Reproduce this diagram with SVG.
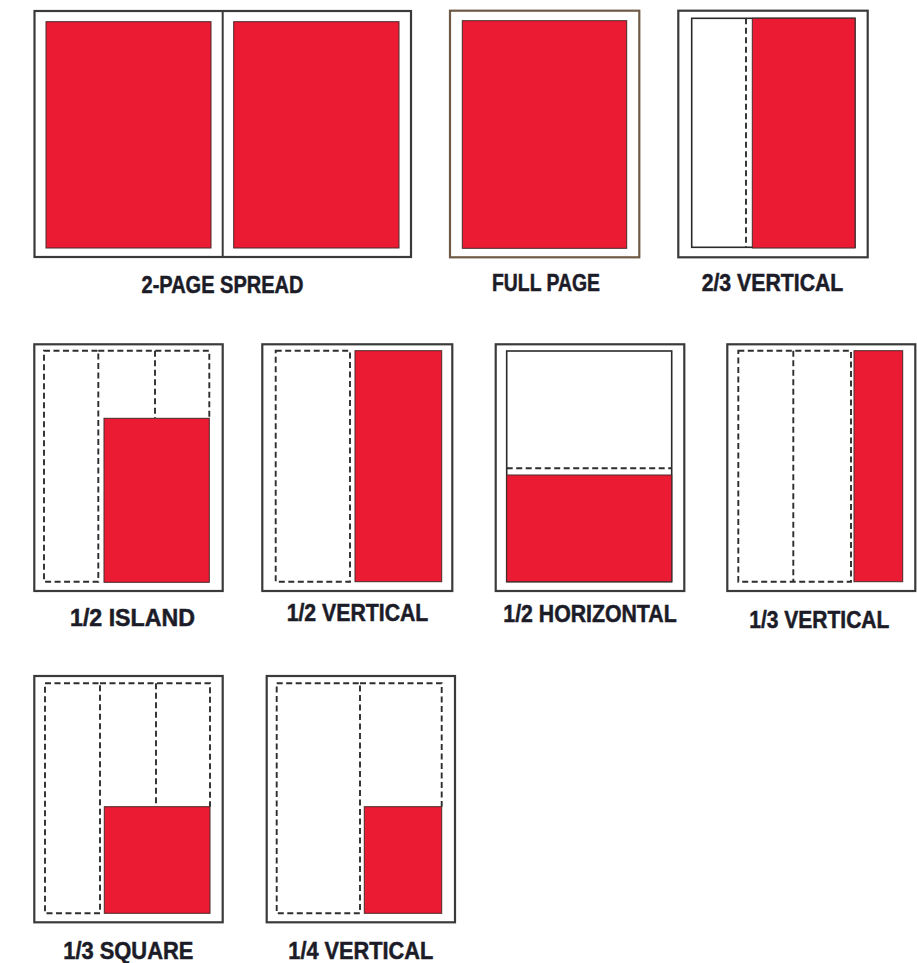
<svg xmlns="http://www.w3.org/2000/svg" width="917" height="963" viewBox="0 0 917 963">
<style>
.frame{fill:#fff;stroke:#3a3a3a;stroke-width:2.2}
.inner{fill:none;stroke:#2a2a2a;stroke-width:1.6}
.red{fill:#ec1b34;stroke:#4a2a2a;stroke-width:1}
.dash{fill:none;stroke:#2e2e2e;stroke-width:1.9;stroke-dasharray:6 3.5}
.lbl{font-family:"Liberation Sans",Arial,sans-serif;font-weight:bold;font-size:23.5px;fill:#1c1c28;stroke:#1c1c28;stroke-width:0.5;text-anchor:middle}
</style>
<rect width="917" height="963" fill="#fff"/>

<g id="two-page-spread">
<rect class="frame" x="34.5" y="11" width="376.5" height="246"/>
<line x1="222.7" y1="11" x2="222.7" y2="257" stroke="#3a3a3a" stroke-width="2"/>
<rect class="red" x="46" y="21.7" width="165" height="226.3"/>
<rect class="red" x="233.7" y="21.7" width="165.3" height="226.3"/>
<text class="lbl" x="222.5" y="293" textLength="162" lengthAdjust="spacingAndGlyphs">2-PAGE SPREAD</text>
</g>

<g id="full-page">
<rect x="450" y="10.7" width="189.3" height="246.6" fill="#fff" stroke="#6e5a45" stroke-width="2.2"/>
<rect class="red" x="462.3" y="20.7" width="164.4" height="227.6"/>
<text class="lbl" x="546" y="291" textLength="108" lengthAdjust="spacingAndGlyphs">FULL PAGE</text>
</g>

<g id="two-thirds-vertical">
<rect class="frame" x="678.3" y="10.7" width="189.4" height="246.6"/>
<rect class="inner" x="691.7" y="18.3" width="163.3" height="229"/>
<line class="dash" x1="746" y1="18.3" x2="746" y2="247.3"/>
<rect class="red" x="752.3" y="18.3" width="102.7" height="229.7"/>
<text class="lbl" x="772.5" y="291" textLength="141.7" lengthAdjust="spacingAndGlyphs">2/3 VERTICAL</text>
</g>

<g id="half-island">
<rect class="frame" x="34.3" y="344.3" width="188.4" height="246.7"/>
<rect class="dash" x="44" y="350.7" width="54.3" height="231"/>
<path class="dash" d="M98.3 350.7 H209.3 V418.3 M155 350.7 V418.3"/>
<rect class="red" x="104" y="418.3" width="105.3" height="164"/>
<text class="lbl" x="132.5" y="626" textLength="125" lengthAdjust="spacingAndGlyphs">1/2 ISLAND</text>
</g>

<g id="half-vertical">
<rect class="frame" x="262.3" y="344.3" width="190" height="246.7"/>
<rect class="dash" x="275.7" y="350.7" width="74.3" height="231"/>
<rect class="red" x="355" y="350.7" width="86.7" height="231"/>
<text class="lbl" x="357.5" y="621" textLength="141.7" lengthAdjust="spacingAndGlyphs">1/2 VERTICAL</text>
</g>

<g id="half-horizontal">
<rect class="frame" x="495.7" y="344.3" width="188.6" height="246.7"/>
<rect class="inner" x="506.7" y="351" width="165" height="230.7"/>
<line class="dash" x1="506.7" y1="468.3" x2="671.7" y2="468.3"/>
<rect class="red" x="506.7" y="475" width="165" height="106.7"/>
<text class="lbl" x="590" y="622" textLength="173.3" lengthAdjust="spacingAndGlyphs">1/2 HORIZONTAL</text>
</g>

<g id="third-vertical">
<rect class="frame" x="727.3" y="344.3" width="188" height="246.7"/>
<rect class="dash" x="738.3" y="350.7" width="112.7" height="231"/>
<line class="dash" x1="793.3" y1="350.7" x2="793.3" y2="581.7"/>
<rect class="red" x="854" y="350.7" width="48.7" height="231"/>
<text class="lbl" x="819.3" y="628" textLength="140" lengthAdjust="spacingAndGlyphs">1/3 VERTICAL</text>
</g>

<g id="third-square">
<rect class="frame" x="34.3" y="676" width="188.4" height="246.3"/>
<rect class="dash" x="45" y="683.3" width="55" height="230"/>
<path class="dash" d="M100 683.3 H210 V806.7 M156 683.3 V806.7"/>
<rect class="red" x="104.3" y="806.7" width="105.7" height="106.6"/>
<text class="lbl" x="128.3" y="959" textLength="130" lengthAdjust="spacingAndGlyphs">1/3 SQUARE</text>
</g>

<g id="quarter-vertical">
<rect class="frame" x="266.7" y="676" width="188.3" height="246.3"/>
<rect class="dash" x="276.7" y="683.3" width="83.3" height="230"/>
<path class="dash" d="M360 683.3 H441.7 V806.7"/>
<rect class="red" x="364.3" y="806.7" width="77.4" height="106.6"/>
<text class="lbl" x="360.8" y="959" textLength="145" lengthAdjust="spacingAndGlyphs">1/4 VERTICAL</text>
</g>
</svg>
